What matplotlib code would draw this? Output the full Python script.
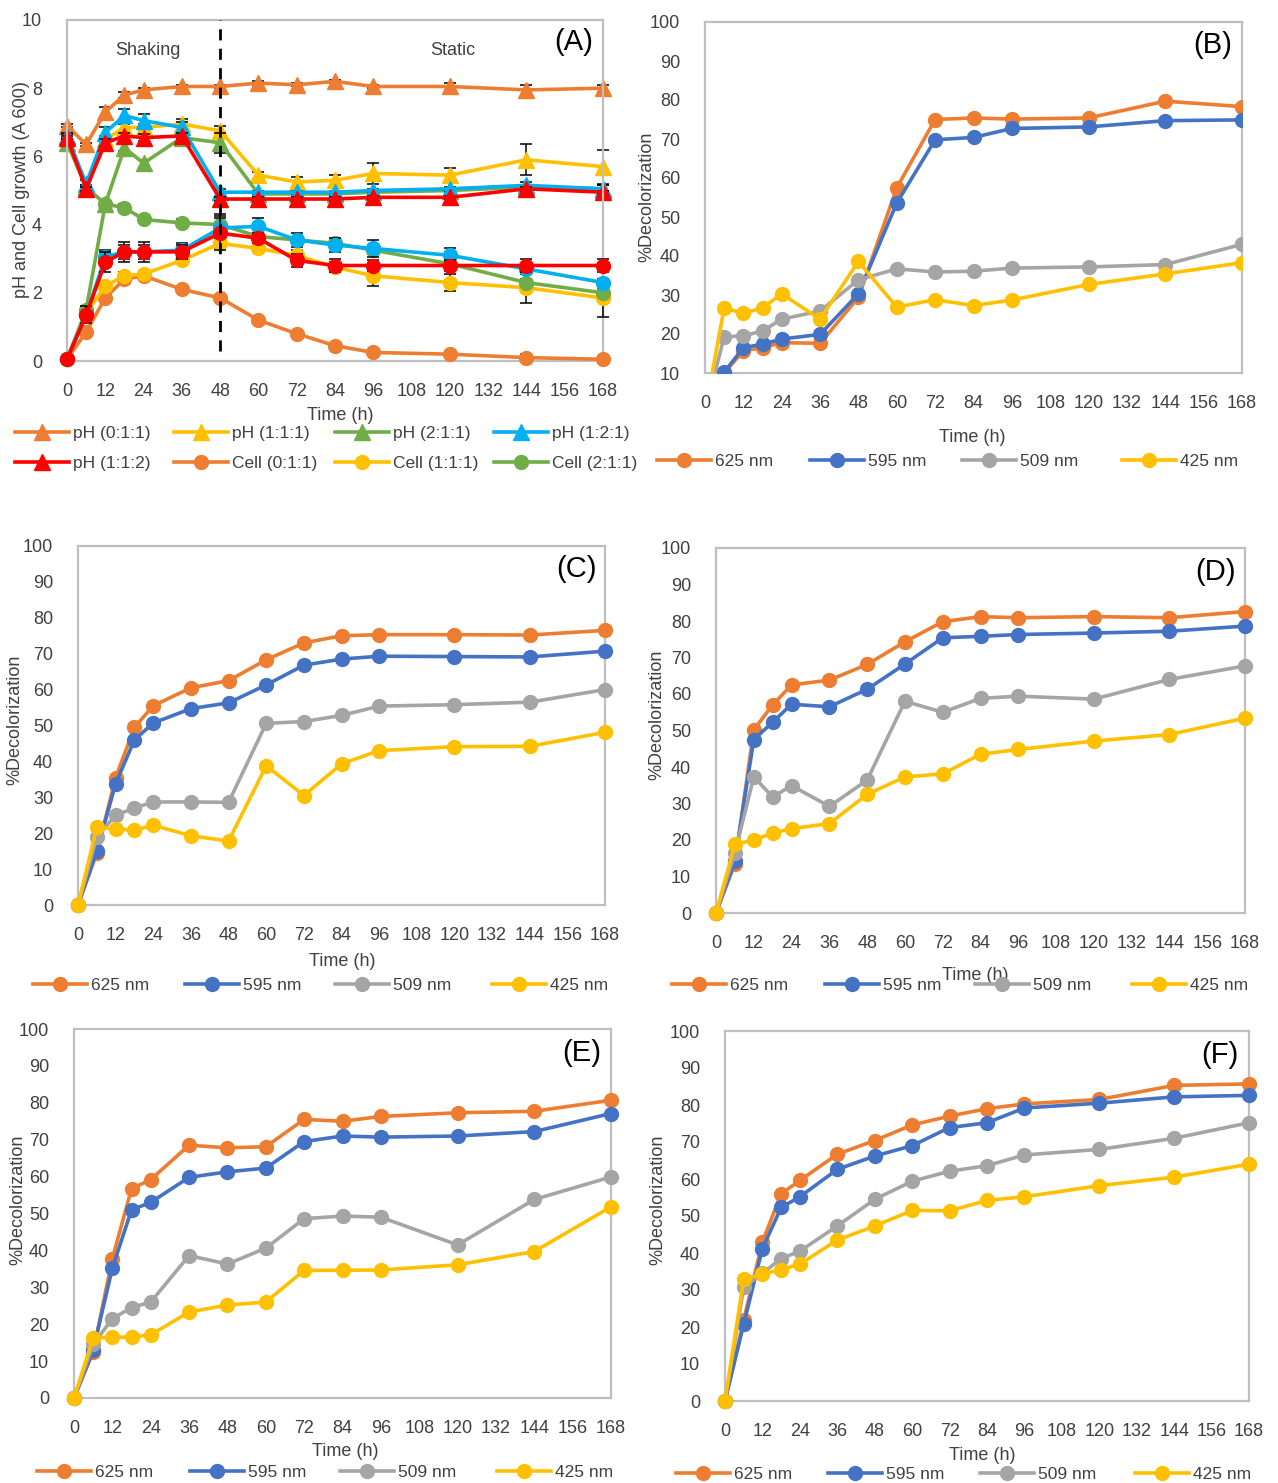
import matplotlib
matplotlib.use("Agg")
import matplotlib.pyplot as plt
from matplotlib.lines import Line2D

plt.rcParams['font.family'] = ['Liberation Sans', 'DejaVu Sans']

W, H = 1278, 1483

# ---------------- data ----------------
time_h = [0, 6, 12, 18, 24, 36, 48, 60, 72, 84, 96, 120, 144, 168]
xticks = list(range(0, 169, 12))

# Panel A
ph_011 = [6.9, 6.35, 7.3, 7.8, 7.95, 8.05, 8.05, 8.15, 8.1, 8.2, 8.05, 8.05, 7.95, 8.0]
ph_111 = [6.6, 5.1, 6.5, 6.85, 6.85, 6.95, 6.75, 5.45, 5.25, 5.3, 5.5, 5.45, 5.9, 5.7]
ph_211 = [6.4, 5.1, 4.6, 6.25, 5.8, 6.55, 6.4, 4.9, 4.9, 4.9, 4.95, 5.0, 5.1, 5.05]
ph_121 = [6.6, 5.2, 6.7, 7.2, 7.05, 6.85, 4.95, 4.95, 4.95, 4.95, 5.0, 5.05, 5.15, 5.05]
ph_112 = [6.55, 5.05, 6.4, 6.6, 6.55, 6.6, 4.75, 4.75, 4.75, 4.75, 4.8, 4.8, 5.05, 4.95]
cell_011 = [0.05, 0.85, 1.85, 2.4, 2.5, 2.1, 1.85, 1.2, 0.8, 0.45, 0.25, 0.2, 0.1, 0.05]
cell_111 = [0.05, 1.4, 2.2, 2.5, 2.55, 2.95, 3.45, 3.3, 3.1, 2.75, 2.5, 2.3, 2.15, 1.85]
cell_211 = [0.05, 1.5, 4.6, 4.5, 4.15, 4.05, 4.0, 3.65, 3.55, 3.45, 3.25, 2.85, 2.3, 2.0]
cell_121 = [0.05, 1.35, 3.05, 3.2, 3.2, 3.25, 3.9, 3.95, 3.55, 3.4, 3.3, 3.1, 2.7, 2.3]
cell_112 = [0.05, 1.35, 2.9, 3.2, 3.2, 3.2, 3.75, 3.6, 2.95, 2.8, 2.8, 2.8, 2.8, 2.8]

err_ph_011 = [0.05, 0.05, 0.15, 0.1, 0.05, 0.05, 0.05, 0.05, 0.05, 0.05, 0.05, 0.1, 0.15, 0.1]
err_ph_111 = [0.05, 0.05, 0.1, 0.1, 0.1, 0.15, 0.15, 0.1, 0.15, 0.15, 0.3, 0.2, 0.45, 0.5]
err_ph_211 = [0.05, 0.05, 0.1, 0.1, 0.1, 0.1, 0.3, 0.05, 0.05, 0.05, 0.05, 0.05, 0.05, 0.1]
err_ph_121 = [0.1, 0.1, 0.15, 0.2, 0.2, 0.15, 0.1, 0.05, 0.05, 0.05, 0.05, 0.05, 0.1, 0.1]
err_ph_112 = [0.05, 0.05, 0.1, 0.1, 0.1, 0.1, 0.05, 0.05, 0.05, 0.05, 0.05, 0.05, 0.05, 0.05]
err_cell_011 = [0.05, 0.05, 0.1, 0.1, 0.1, 0.05, 0.05, 0.05, 0.05, 0.05, 0.05, 0.05, 0.1, 0.05]
err_cell_111 = [0.05, 0.1, 0.1, 0.1, 0.1, 0.1, 0.15, 0.1, 0.15, 0.15, 0.3, 0.25, 0.45, 0.55]
err_cell_211 = [0.05, 0.1, 0.1, 0.1, 0.1, 0.1, 0.3, 0.1, 0.1, 0.1, 0.1, 0.1, 0.1, 0.1]
err_cell_121 = [0.05, 0.1, 0.2, 0.2, 0.2, 0.2, 0.3, 0.25, 0.2, 0.2, 0.25, 0.2, 0.15, 0.1]
err_cell_112 = [0.05, 0.25, 0.3, 0.3, 0.3, 0.2, 0.5, 0.15, 0.2, 0.2, 0.15, 0.15, 0.2, 0.2]

# Panel B
b_625 = [0, 10.0, 15.7, 16.5, 17.8, 17.6, 29.4, 57.5, 75.0, 75.4, 75.1, 75.4, 79.7, 78.3]
b_595 = [0, 10.2, 16.5, 17.4, 18.7, 19.9, 30.3, 53.6, 69.8, 70.4, 72.7, 73.1, 74.7, 74.9]
b_509 = [0, 19.3, 19.5, 20.8, 23.8, 25.9, 33.9, 36.7, 35.9, 36.1, 36.9, 37.2, 37.8, 43.0]
b_425 = [0, 26.7, 25.3, 26.7, 30.3, 23.8, 38.6, 26.9, 28.8, 27.3, 28.7, 32.7, 35.4, 38.3]

# Panel C
c_625 = [0, 14.5, 35.5, 49.5, 55.5, 60.5, 62.5, 68.3, 73.0, 75.0, 75.3, 75.3, 75.2, 76.5]
c_595 = [0, 15.0, 33.8, 46.0, 50.7, 54.7, 56.3, 61.3, 66.8, 68.5, 69.3, 69.2, 69.1, 70.7]
c_509 = [0, 19.0, 25.0, 27.0, 28.7, 28.7, 28.6, 50.6, 51.1, 52.8, 55.4, 55.8, 56.5, 60.0]
c_425 = [0, 21.6, 21.2, 20.8, 22.2, 19.3, 17.8, 38.8, 30.5, 39.3, 43.0, 44.1, 44.2, 48.1]

# Panel D
d_625 = [0, 13.5, 50.2, 57.0, 62.5, 63.8, 68.1, 74.3, 79.8, 81.2, 80.9, 81.2, 80.9, 82.6]
d_595 = [0, 14.3, 47.5, 52.3, 57.2, 56.5, 61.3, 68.2, 75.4, 75.8, 76.3, 76.7, 77.2, 78.6]
d_509 = [0, 16.5, 37.3, 31.8, 34.9, 29.2, 36.4, 58.0, 55.0, 58.8, 59.4, 58.6, 64.0, 67.7]
d_425 = [0, 18.8, 20.0, 21.9, 23.1, 24.5, 32.5, 37.3, 38.1, 43.5, 44.8, 47.1, 48.9, 53.4]

# Panel E
e_625 = [0, 12.5, 37.8, 56.7, 59.2, 68.5, 67.8, 68.1, 75.5, 75.0, 76.3, 77.3, 77.7, 80.7]
e_595 = [0, 13.0, 35.2, 51.0, 53.0, 59.8, 61.3, 62.3, 69.5, 71.0, 70.7, 71.0, 72.2, 77.1]
e_509 = [0, 14.5, 21.5, 24.5, 26.0, 38.6, 36.3, 40.6, 48.6, 49.3, 49.0, 41.5, 53.8, 59.9]
e_425 = [0, 16.3, 16.5, 16.5, 17.1, 23.3, 25.2, 26.0, 34.6, 34.6, 34.7, 36.1, 39.7, 51.8]

# Panel F
f_625 = [0, 21.9, 43.0, 56.0, 59.6, 66.7, 70.4, 74.6, 77.0, 79.0, 80.3, 81.5, 85.3, 85.7]
f_595 = [0, 20.8, 41.2, 52.3, 55.2, 62.6, 66.2, 69.0, 73.9, 75.2, 79.2, 80.5, 82.2, 82.6]
f_509 = [0, 30.7, 34.5, 38.5, 40.5, 47.3, 54.5, 59.4, 62.1, 63.6, 66.5, 68.0, 71.0, 75.2]
f_425 = [0, 33.0, 34.3, 35.5, 37.0, 43.5, 47.3, 51.5, 51.4, 54.2, 55.2, 58.2, 60.5, 64.0]

wave_labels = ['625 nm', '595 nm', '509 nm', '425 nm']

# ---------------- style ----------------
ORANGE = '#ED7D31'
BLUE = '#4472C4'
GRAY = '#A5A5A5'
YELLOW = '#FFC000'
GREEN = '#70AD47'
CYAN = '#00B0F0'
RED = '#FF0000'
SPINE = '#BFBFBF'
TXT = '#404040'
FS = 13
LFS = 12.5
LW = 2.6
MS = 10

fig = plt.figure(figsize=(W / 100, H / 100), dpi=100)


def add_ax(left, right, top, bottom):
    return fig.add_axes([left / W, 1 - bottom / H, (right - left) / W, (bottom - top) / H])


def style_ax(ax, ylim, yticks):
    ax.set_xlim(0, 168)
    ax.set_ylim(*ylim)
    ax.set_xticks(xticks)
    ax.set_yticks(yticks)
    for s in ax.spines.values():
        s.set_color(SPINE)
        s.set_linewidth(1.6)
    ax.tick_params(axis='both', length=0, labelsize=FS, labelcolor=TXT)
    ax.tick_params(axis='x', pad=16)
    ax.tick_params(axis='y', pad=18)


def ftext(x, y, s, **kw):
    fig.text(x / W, 1 - y / H, s, **kw)


def entry(x, y, color, marker, label, ms=MS):
    h = Line2D([], [], color=color, lw=LW, marker=marker, markersize=ms)
    fig.legend(handles=[h], labels=[label], loc='center left',
               bbox_to_anchor=(x / W, 1 - y / H), frameon=False,
               borderpad=0, borderaxespad=0, handlelength=3.1,
               handletextpad=0.25, fontsize=LFS, labelcolor=TXT)


# ---------------- Panel A ----------------
axA = add_ax(67, 603, 20, 361)
style_ax(axA, (0, 10), list(range(0, 11, 2)))
seriesA = [
    (ph_011, err_ph_011, ORANGE, '^', 'pH (0:1:1)'),
    (ph_111, err_ph_111, YELLOW, '^', 'pH (1:1:1)'),
    (ph_211, err_ph_211, GREEN, '^', 'pH (2:1:1)'),
    (ph_121, err_ph_121, CYAN, '^', 'pH (1:2:1)'),
    (ph_112, err_ph_112, RED, '^', 'pH (1:1:2)'),
    (cell_011, err_cell_011, ORANGE, 'o', 'Cell (0:1:1)'),
    (cell_111, err_cell_111, YELLOW, 'o', 'Cell (1:1:1)'),
    (cell_211, err_cell_211, GREEN, 'o', 'Cell (2:1:1)'),
    (cell_121, err_cell_121, CYAN, 'o', 'Cell (1:2:1)'),
    (cell_112, err_cell_112, RED, 'o', 'Cell (1:1:2)'),
]
for i, (vals, err, col, mk, lab) in enumerate(seriesA):
    axA.errorbar(time_h, vals, yerr=err, fmt='none', ecolor='black',
                 elinewidth=1.1, capsize=4, capthick=1.1, zorder=2 + i * 0.1, clip_on=False)
    axA.plot(time_h, vals, color=col, lw=LW, marker=mk,
             markersize=MS + (1 if mk == '^' else 0), zorder=2.05 + i * 0.1, clip_on=False)
axA.axvline(48, ymin=0.03, ymax=1.0, color='black', lw=2, ls=(0, (4, 3)), zorder=5)
axA.text(0.15, 0.91, 'Shaking', transform=axA.transAxes, fontsize=FS, color=TXT, ha='center', va='center')
axA.text(0.72, 0.91, 'Static', transform=axA.transAxes, fontsize=FS, color=TXT, ha='center', va='center')
axA.text(0.945, 0.935, '(A)', transform=axA.transAxes, fontsize=21, color='black', ha='center', va='center')
ftext(22, 190, 'pH and Cell growth (A 600)', rotation=90, ha='center', va='center', fontsize=FS, color=TXT)
ftext(340, 415, 'Time (h)', ha='center', va='center', fontsize=FS, color=TXT)
legA_x = [15, 174, 335, 494]
for k, (vals, err, col, mk, lab) in enumerate(seriesA[:8]):
    row, colno = divmod(k, 4)
    entry(legA_x[colno], 433 + row * 30, col, mk, lab, ms=MS + (1 if mk == '^' else 0))

# ---------------- Panels B-F ----------------
panels = [
    ('(B)', (705, 1242, 22, 373), (10, 100), [b_625, b_595, b_509, b_425], True,
     (647, 197), (972, 438), 461, [657, 810, 962, 1122]),
    ('(C)', (78, 605, 546, 905), (0, 100), [c_625, c_595, c_509, c_425], False,
     (15, 720), (342, 961), 985, [33, 185, 335, 492]),
    ('(D)', (716, 1245, 548, 913), (0, 100), [d_625, d_595, d_509, d_425], False,
     (657, 715), (975, 975), 985, [672, 825, 975, 1132]),
    ('(E)', (74, 611, 1029, 1398), (0, 100), [e_625, e_595, e_509, e_425], False,
     (18, 1200), (345, 1451), 1472, [37, 190, 340, 497]),
    ('(F)', (725, 1249, 1031, 1401), (0, 100), [f_625, f_595, f_509, f_425], False,
     (658, 1200), (982, 1456), 1474, [676, 828, 980, 1135]),
]
cols4 = [ORANGE, BLUE, GRAY, YELLOW]
for (tag, box, ylim, data, clip, ylab_pos, xlab_pos, leg_y, leg_x) in panels:
    ax = add_ax(*box)
    style_ax(ax, ylim, list(range(ylim[0], 101, 10)))
    for j, vals in enumerate(data):
        ax.plot(time_h, vals, color=cols4[j], lw=LW, marker='o', markersize=MS,
                zorder=3 + j * 0.1, clip_on=clip)
    ax.text(0.945, 0.935, tag, transform=ax.transAxes, fontsize=21, color='black', ha='center', va='center')
    ftext(ylab_pos[0], ylab_pos[1], '%Decolorization', rotation=90, ha='center', va='center',
          fontsize=FS, color=TXT)
    ftext(xlab_pos[0], xlab_pos[1], 'Time (h)', ha='center', va='center', fontsize=FS, color=TXT)
    for j in range(4):
        entry(leg_x[j], leg_y, cols4[j], 'o', wave_labels[j])

fig.savefig('out.png', dpi=100)
